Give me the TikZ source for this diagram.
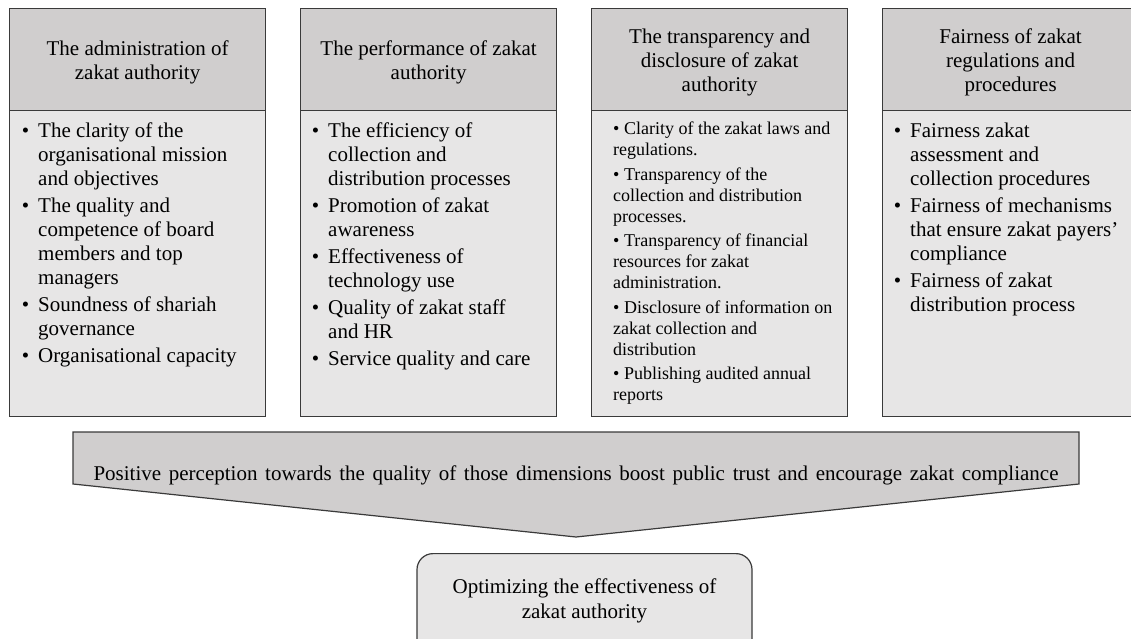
\documentclass[tikz,border=0pt]{standalone}
\usepackage{fontspec}
\setmainfont{Liberation Serif}
\definecolor{hdr}{HTML}{D0CECE}
\definecolor{bdy}{HTML}{E7E6E6}
\definecolor{edge}{HTML}{3A3A3A}
\newcommand{\bul}{\llap{\textbullet\hspace{9pt}}}
\begin{document}
\begin{tikzpicture}[x=1pt,y=-1pt,
  frame/.style={draw=edge, line width=1.2pt},
  hdrbox/.style={frame, fill=hdr, minimum width=256pt, minimum height=102pt, anchor=north west, inner sep=0pt},
  htext/.style={align=center, inner sep=0pt, font=\fontsize{21}{24}\selectfont, yshift=-3pt},
  bodybox/.style={frame, fill=bdy, minimum width=256pt, minimum height=306pt, anchor=north west, inner sep=0pt},
  ltext/.style={align=left, anchor=north west, inner sep=0pt, font=\fontsize{21}{24}\selectfont},
  stext/.style={align=left, anchor=north west, inner sep=0pt, font=\fontsize{18}{21}\selectfont},
  ctext/.style={align=center, inner sep=0pt, font=\fontsize{21}{25}\selectfont},
]
\useasboundingbox (0,0) rectangle (1131,639);
\clip (0,0) rectangle (1131,639);

% column 1
\node[bodybox] (b1) at (9,110) {};
\node[hdrbox] (h1) at (9,8) {};
\node[htext] (t1) at (h1.center) {The administration of\\zakat authority};
\node[ltext] (l1) at (38,122.5) {\bul The clarity of the\\organisational mission\\and objectives\\[3pt]
\bul The quality and\\competence of board\\members and top\\managers\\[3pt]
\bul Soundness of shariah\\governance\\[3pt]
\bul Organisational capacity};

% column 2
\node[bodybox] (b2) at (300,110) {};
\node[hdrbox] (h2) at (300,8) {};
\node[htext] (t2) at (h2.center) {The performance of zakat\\authority};
\node[ltext] (l2) at (328,122.5) {\bul The efficiency of\\collection and\\distribution processes\\[3pt]
\bul Promotion of zakat\\awareness\\[3pt]
\bul Effectiveness of\\technology use\\[3pt]
\bul Quality of zakat staff\\and HR\\[3pt]
\bul Service quality and care};

% column 3
\node[bodybox] (b3) at (591,110) {};
\node[hdrbox] (h3) at (591,8) {};
\node[htext] (t3) at (h3.center) {The transparency and\\disclosure of zakat\\authority};
\node[stext] (l3) at (613,122) {\textbullet\ Clarity of the zakat laws and\\regulations.\\[3.5pt]
\textbullet\ Transparency of the\\collection and distribution\\processes.\\[3.5pt]
\textbullet\ Transparency of financial\\resources for zakat\\administration.\\[3.5pt]
\textbullet\ Disclosure of information on\\zakat collection and\\distribution\\[3.5pt]
\textbullet\ Publishing audited annual\\reports};

% column 4
\node[bodybox] (b4) at (882,110) {};
\node[hdrbox] (h4) at (882,8) {};
\node[htext] (t4) at (h4.center) {Fairness of zakat\\regulations and\\procedures};
\node[ltext] (l4) at (910,122.5) {\bul Fairness zakat\\assessment and\\collection procedures\\[3pt]
\bul Fairness of mechanisms\\that ensure zakat payers’\\compliance\\[3pt]
\bul Fairness of zakat\\distribution process};

% big arrow
\draw[frame, fill=hdr] (73,432) -- (1079,432) -- (1079,484) -- (576,537) -- (73,484) -- cycle;
\node[inner sep=0pt, anchor=base, font=\fontsize{21}{24}\selectfont] (ptext) at (576,480)
  {\makebox[965pt][s]{Positive perception towards the quality of those dimensions boost public trust and encourage zakat compliance}};

% result box
\node[frame, fill=bdy, rounded corners=16pt, minimum width=335pt, minimum height=110pt, anchor=north, inner sep=0pt] (opt) at (584.5,553) {};
\node[ctext, anchor=north] (otext) at (584.5,578.5) {Optimizing the effectiveness of\\zakat authority};
\end{tikzpicture}
\end{document}
